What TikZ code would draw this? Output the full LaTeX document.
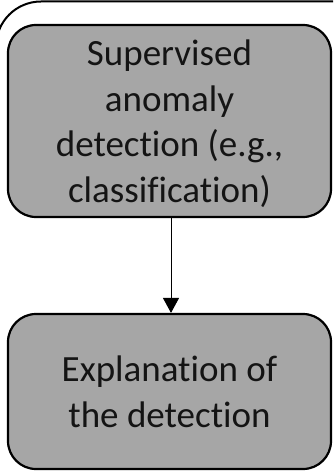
\documentclass[tikz,border=0pt]{standalone}
\usepackage{fontspec}
\setmainfont{Carlito}[Ligatures=NoCommon]
\usepackage{tikz}
\usetikzlibrary{arrows.meta,positioning}
\usepackage{xcolor}
\definecolor{boxgrey}{RGB}{166,166,166}
\definecolor{textblack}{RGB}{20,20,20}

\begin{document}
\begin{tikzpicture}[x=1pt, y=-1pt,
    every node/.style={font=\fontsize{37}{45.5}\selectfont, text=textblack},
    stepbox/.style={draw, line width=2.2pt, rounded corners=28pt, fill=boxgrey,
                    minimum width=323pt, align=center, inner sep=0pt}]
    \clip (0,0) rectangle (333,476);
    % outer frame, cut by the page
    \draw[line width=2pt, rounded corners=45pt] (-4,1.5) rectangle (380,520);
    \node[stepbox, minimum height=192pt, text depth=0pt] (sup) at (169.5,121)
          {Supervised\\anomaly\\detection (e.g.,\\classification)};
    \node[stepbox, minimum height=155pt, text depth=0pt] (expl) at (169.5,391.5)
          {Explanation of\\the detection};
    \draw[-{Triangle[length=15pt, width=16pt]}, line width=1pt]
          ([xshift=1.5pt]sup.south) -- ([xshift=1.5pt]expl.north);
\end{tikzpicture}
\end{document}
